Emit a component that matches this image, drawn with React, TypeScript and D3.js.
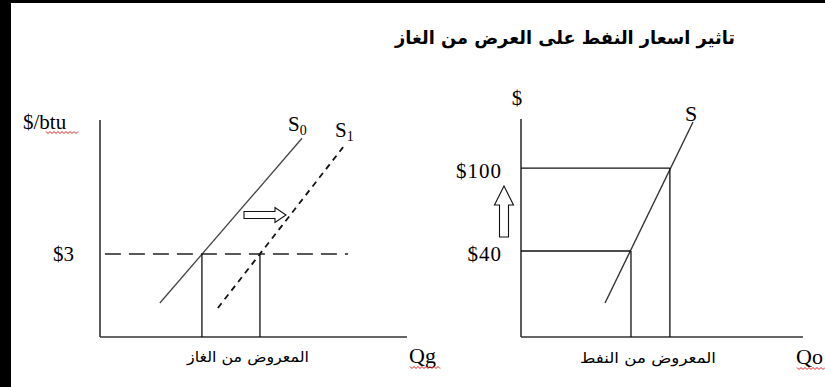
import React from "react";
import * as d3 from "d3";

// Gas market (left): quantity units 0..100, price units $
const gasSupply0 = [{ q: 19.5, p: 1.23 }, { q: 65.8, p: 7.19 }];
const gasSupply1 = [{ q: 38.4, p: 1.05 }, { q: 79.2, p: 6.87 }];
const gasPrice = 3;
const gasPriceSpan = [1.6, 80.8];
const gasQty = [33.2, 52.1];

// Oil market (right)
const oilSupply = [{ q: 29.8, p: 2.4 }, { q: 61, p: 133.3 }];
const oilPrices = [40, 100];
const oilQty = [39, 52.8];

const TITLE = "تاثير اسعار النفط على العرض من الغاز";
const GAS_LABEL = "المعروض من الغاز";
const OIL_LABEL = "المعروض من النفط";

const W = 825;
const H = 387;
const serif = "'Liberation Serif', 'Times New Roman', serif";
const arabic = "'DejaVu Sans', sans-serif";

type Pt = { q: number; p: number };

function wavy(x0: number, x1: number, y: number) {
  const pts: [number, number][] = [];
  for (let x = x0, i = 0; x <= x1; x += 2, i++) pts.push([x, y + (i % 2 ? 1.5 : -0.5)]);
  return d3.line()(pts) || "";
}

export default function App() {
  // left panel scales
  const gx = d3.scaleLinear().domain([0, 100]).range([100, 407]);
  const gy = d3.scaleLinear().domain([0, 7.85]).range([337, 120]);
  // right panel scales
  const ox = d3.scaleLinear().domain([0, 100]).range([521, 803]);
  const oy = d3.scaleLinear().domain([-22.2, 135.5]).range([337, 119]);

  const gLine = d3.line<Pt>().x((d) => gx(d.q)).y((d) => gy(d.p));
  const oLine = d3.line<Pt>().x((d) => ox(d.q)).y((d) => oy(d.p));

  const axis = { stroke: "#333", strokeWidth: 1.6, fill: "none" };
  const thin = { stroke: "#111", strokeWidth: 1.3, fill: "none" };

  // hollow arrows
  const rightArrow = (x: number, y: number) =>
    `M${x},${y - 3.5}H${x + 31}V${y - 7.5}L${x + 42},${y}L${x + 31},${y + 7.5}V${y + 3.5}H${x}Z`;
  const upArrow = (x: number, y: number) =>
    `M${x - 4.5},${y}V${y - 32}H${x - 9.5}L${x},${y - 51}L${x + 9.5},${y - 32}H${x + 4.5}V${y}Z`;

  return (
    <svg
      width={W}
      height={H}
      style={{ position: "absolute", left: 0, top: 0, background: "#fff" }}
    >
      <rect x={0} y={0} width={W} height={3} fill="#000" />
      <rect x={0} y={0} width={11} height={H} fill="#000" />

      <text
        x={565}
        y={44}
        textAnchor="middle"
        fontFamily={arabic}
        fontWeight="bold"
        fontSize={18}
        textLength={340}
        lengthAdjust="spacingAndGlyphs"
        fill="#000"
      >
        {TITLE}
      </text>

      {/* ---- gas panel ---- */}
      <line x1={gx(0)} y1={gy(7.85)} x2={gx(0)} y2={gy(0)} {...axis} />
      <line x1={gx(0)} y1={gy(0)} x2={gx(100)} y2={gy(0)} {...axis} />
      <text x={23} y={129} fontFamily={serif} fontSize={21} fill="#000">$/btu</text>
      <path d={wavy(46, 78, 132)} stroke="#e02020" strokeWidth={1} fill="none" />

      <path d={gLine(gasSupply0) || ""} stroke="#444" strokeWidth={1.3} fill="none" />
      <path d={gLine(gasSupply1) || ""} stroke="#111" strokeWidth={1.8} strokeDasharray="6,5" fill="none" />
      <line
        x1={gx(gasPriceSpan[0])}
        x2={gx(gasPriceSpan[1])}
        y1={gy(gasPrice)}
        y2={gy(gasPrice)}
        stroke="#222"
        strokeWidth={1.6}
        strokeDasharray="16,8"
      />
      {gasQty.map((q) => (
        <line key={q} x1={gx(q)} x2={gx(q)} y1={gy(gasPrice)} y2={gy(0)} {...thin} />
      ))}
      <text x={53} y={261} fontFamily={serif} fontSize={21} fill="#000">${gasPrice}</text>
      <text x={288} y={131} fontFamily={serif} fontSize={21} fill="#000">
        S<tspan fontSize={14} dy={4}>0</tspan>
      </text>
      <text x={335} y={137} fontFamily={serif} fontSize={21} fill="#000">
        S<tspan fontSize={14} dy={4}>1</tspan>
      </text>
      <path d={rightArrow(244, 215)} fill="#fff" stroke="#111" strokeWidth={1.1} />
      <text
        x={248}
        y={362}
        textAnchor="middle"
        fontFamily={arabic}
        fontSize={15}
        textLength={122}
        lengthAdjust="spacingAndGlyphs"
        fill="#000"
      >
        {GAS_LABEL}
      </text>
      <text x={409} y={363} fontFamily={serif} fontSize={22} fill="#000">Qg</text>
      <path d={wavy(410, 440, 367)} stroke="#e02020" strokeWidth={1} fill="none" />

      {/* ---- oil panel ---- */}
      <line x1={ox(0)} y1={oy(135.5)} x2={ox(0)} y2={oy(-22.2)} {...axis} />
      <line x1={ox(0)} y1={oy(-22.2)} x2={ox(100)} y2={oy(-22.2)} {...axis} />
      <text x={517} y={105} textAnchor="middle" fontFamily={serif} fontSize={21} fill="#000">$</text>
      <path d={oLine(oilSupply) || ""} stroke="#333" strokeWidth={1.4} fill="none" />
      {oilPrices.map((p, i) => (
        <g key={p}>
          <line x1={ox(0)} x2={ox(oilQty[i])} y1={oy(p)} y2={oy(p)} {...thin} />
          <line x1={ox(oilQty[i])} x2={ox(oilQty[i])} y1={oy(p)} y2={oy(-22.2)} {...thin} />
          <text
            x={502}
            y={oy(p) + 10}
            textAnchor="end"
            fontFamily={serif}
            fontSize={21}
            letterSpacing={1}
            fill="#000"
          >
            ${p}
          </text>
        </g>
      ))}
      <text x={685} y={121} fontFamily={serif} fontSize={22} fill="#000">S</text>
      <path d={upArrow(504, 237)} fill="#fff" stroke="#111" strokeWidth={1.1} />
      <text
        x={648}
        y={363}
        textAnchor="middle"
        fontFamily={arabic}
        fontSize={15}
        textLength={136}
        lengthAdjust="spacingAndGlyphs"
        fill="#000"
      >
        {OIL_LABEL}
      </text>
      <text x={796} y={364} fontFamily={serif} fontSize={22} fill="#000">Qo</text>
      <path d={wavy(797, 825, 368)} stroke="#e02020" strokeWidth={1} fill="none" />
    </svg>
  );
}
